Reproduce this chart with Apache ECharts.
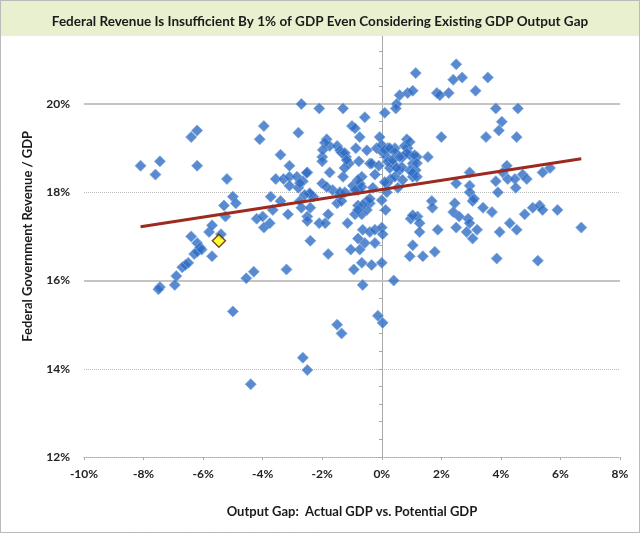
<!DOCTYPE html>
<html>
<head>
<meta charset="utf-8">
<script src="https://cdn.jsdelivr.net/npm/echarts@6/dist/echarts.min.js"></script>
<style>
  html, body { margin: 0; padding: 0; background: #fff; }
  #chart { width: 640px; height: 533px; }
</style>
</head>
<body>
<div id="chart"></div>
<script>
// output gap (%) vs federal revenue / GDP (%)
const points = [
  [-8.1, 18.6], [-7.6, 18.4], [-7.45, 18.7], [-7.45, 15.85], [-7.5, 15.8],
  [-6.9, 16.1], [-6.95, 15.9], [-6.7, 16.3], [-6.6, 16.35], [-6.5, 16.4],
  [-6.4, 17.0], [-6.3, 16.6], [-6.2, 16.85], [-6.2, 16.65], [-6.1, 16.75],
  [-6.05, 16.7], [-5.8, 17.1], [-5.7, 17.25], [-5.7, 16.55], [-5.4, 17.05],
  [-6.4, 19.25], [-6.2, 19.4], [-6.2, 18.6], [-5.2, 18.3], [-5.3, 17.7],
  [-5.25, 17.45], [-5.0, 17.9], [-4.9, 17.75], [-4.55, 16.05], [-4.3, 16.2],
  [-5.0, 15.3], [-4.4, 13.65], [-3.96, 19.5], [-4.1, 19.2], [-4.2, 17.4],
  [-4.0, 17.45], [-3.96, 17.2], [-3.76, 17.3], [-3.66, 17.6], [-3.73, 17.9],
  [-3.56, 18.3], [-3.4, 18.85], [-3.3, 18.3], [-3.1, 18.35], [-3.1, 18.15],
  [-2.85, 18.35], [-3.1, 18.6], [-3.15, 17.5], [-3.2, 16.25], [-2.8, 19.35],
  [-2.7, 20.0], [-2.8, 18.1], [-3.4, 17.8], [-2.7, 17.65], [-2.4, 17.65],
  [-2.5, 17.45], [-2.5, 17.35], [-2.75, 17.8], [-2.4, 17.95], [-2.3, 17.9],
  [-2.5, 18.45], [-2.65, 18.25], [-2.1, 17.3], [-1.9, 17.3], [-1.8, 17.5],
  [-2.4, 16.9], [-1.8, 16.6], [-2.1, 19.9], [-1.3, 19.9], [-2.0, 18.8],
  [-2.0, 18.7], [-1.85, 19.2], [-1.75, 19.05], [-1.5, 19.05], [-1.4, 18.95],
  [-1.35, 18.9], [-1.75, 18.45], [-1.3, 18.35], [-0.97, 18.15], [-0.67, 18.35],
  [-0.74, 18.2], [-0.8, 18.05], [-2.0, 18.2], [-1.65, 18.05], [-1.4, 17.95],
  [-1.5, 17.75], [-0.8, 17.7], [-1.2, 18.8], [-1.1, 18.65], [-1.25, 18.55],
  [-1.0, 19.5], [-0.9, 19.45], [-0.74, 19.25], [-0.87, 19.0], [-0.5, 18.95],
  [-0.57, 19.7], [0.1, 19.8], [-0.77, 18.7], [-0.4, 18.65], [-0.34, 18.65],
  [-0.23, 18.4], [-0.5, 17.8], [-0.4, 17.75], [-1.35, 17.8], [-1.15, 17.3],
  [-0.9, 17.5], [-0.67, 17.5], [-0.5, 17.6], [-0.4, 17.85], [0.13, 17.6],
  [-0.64, 17.15], [-0.4, 17.1], [-0.23, 17.15], [0.0, 17.2], [0.03, 17.05],
  [-0.8, 16.95], [-0.57, 16.85], [-0.74, 16.7], [-0.23, 16.85], [-1.04, 16.7],
  [-0.67, 16.4], [-0.94, 16.25], [-0.34, 16.35], [0.0, 16.4], [-0.64, 15.9],
  [0.4, 16.0], [-2.65, 14.25], [-2.5, 13.97], [-1.5, 15.0], [-1.35, 14.8],
  [-0.13, 15.2], [0.03, 15.04], [-0.07, 19.25], [-0.17, 19.0], [0.03, 18.9],
  [0.2, 19.0], [0.44, 19.0], [0.17, 18.8], [0.37, 18.65], [0.27, 18.55],
  [0.7, 18.8], [0.84, 19.2], [0.87, 19.0], [0.94, 18.85], [1.18, 18.8],
  [1.04, 18.65], [1.14, 18.5], [1.04, 18.35], [1.55, 18.8], [2.0, 19.25],
  [0.77, 19.05], [0.17, 18.2], [0.17, 18.0], [0.54, 18.1], [0.5, 20.0],
  [0.47, 19.9], [0.6, 20.2], [0.87, 20.25], [1.04, 20.3], [1.14, 20.7],
  [1.85, 20.25], [1.95, 20.2], [2.25, 20.25], [2.4, 20.55], [2.7, 20.6],
  [2.5, 20.9], [3.15, 20.3], [3.56, 20.6], [3.83, 19.9], [4.57, 19.9],
  [4.03, 19.6], [3.93, 19.4], [3.5, 19.25], [4.53, 19.25], [2.95, 18.45],
  [2.95, 18.15], [2.95, 18.0], [3.05, 17.8], [2.5, 18.2], [4.2, 18.6],
  [4.06, 18.45], [4.23, 18.3], [4.47, 18.3], [4.5, 18.1], [3.83, 18.25],
  [3.9, 18.0], [4.73, 18.4], [4.87, 18.3], [5.4, 18.45], [5.65, 18.55],
  [1.68, 17.8], [1.7, 17.65], [2.45, 17.75], [2.4, 17.55], [2.6, 17.45],
  [2.9, 17.4], [2.95, 17.3], [3.1, 17.85], [3.4, 17.65], [3.7, 17.55],
  [4.8, 17.5], [5.07, 17.65], [5.3, 17.7], [5.4, 17.6], [5.9, 17.6],
  [0.97, 17.4], [1.2, 17.45], [1.27, 17.3], [1.27, 17.1], [1.88, 17.15],
  [2.5, 17.2], [2.85, 17.1], [3.2, 17.15], [3.05, 16.95], [3.96, 17.1],
  [4.3, 17.3], [4.53, 17.15], [6.7, 17.2], [1.04, 16.8], [0.94, 16.55],
  [1.38, 16.55], [1.78, 16.65], [3.86, 16.5], [5.24, 16.45],
  [-0.1, 18.6], [0.3, 18.3], [0.6, 18.5], [-0.3, 18.1],
  [-1.91, 19.12], [-1.98, 18.96], [-1.24, 18.89], [-1.18, 18.73],
  [0.0, 19.07], [0.1, 18.96], [0.27, 19.0], [0.44, 18.91], [0.2, 18.69],
  [0.37, 18.73], [0.6, 18.8], [0.84, 18.89], [0.94, 19.14], [1.1, 18.84],
  [1.18, 18.66], [0.94, 18.5], [1.04, 18.44], [0.67, 18.57], [0.5, 18.55],
  [0.44, 18.35], [0.7, 18.28], [1.18, 18.35], [-0.8, 18.28], [-0.67, 18.12],
  [-0.9, 18.05], [-1.85, 18.12], [-1.41, 18.0], [-1.24, 18.0], [-2.52, 18.44],
  [-2.75, 18.21], [-2.42, 17.98], [-2.59, 17.94], [0.1, 18.23], [0.0, 17.82],
  [-0.64, 17.71], [-0.8, 17.6], [1.04, 17.48]
];

// the highlighted (yellow) observation
const highlight = [[-5.47, 16.9]];

// linear trend, ends
const trend = [[-8.1, 17.22], [6.7, 18.76]];

// solid major gridlines (the others are dotted)
const majorLines = [16, 20];

const titleText = 'Federal Revenue Is Insufficient By 1% of GDP Even Considering Existing GDP Output Gap';
const xName = 'Output Gap:  Actual GDP vs. Potential GDP';
const yName = 'Federal Government Revenue / GDP';

const font = 'Lato, "Open Sans", sans-serif';

const chart = echarts.init(document.getElementById('chart'));

chart.setOption({
  backgroundColor: '#fff',
  animation: false,
  title: {
    text: titleText,
    left: 'center',
    top: 10,
    z: 120,
    textStyle: { fontFamily: font, fontSize: 13.5, fontWeight: 'bold', color: '#1a1a1a' },
  },
  graphic: [
    {
      type: 'rect',
      z: 100,
      shape: { x: 1, y: 1, width: 638, height: 35 },
      style: { fill: '#e8f0d0', stroke: null },
    },
    {
      type: 'rect',
      z: 110,
      shape: { x: 0.5, y: 0.5, width: 639, height: 532 },
      style: { fill: null, stroke: '#777', lineWidth: 1, lineDash: [1, 1] },
    },
  ],
  grid: { left: 84, right: 20, top: 15.75, bottom: 76 },
  xAxis: {
    type: 'value',
    min: -10,
    max: 8,
    interval: 2,
    name: xName,
    nameLocation: 'middle',
    nameGap: 48,
    nameTextStyle: { fontFamily: font, fontSize: 13, fontWeight: 'bold', color: '#1a1a1a' },
    axisLine: { onZero: false, lineStyle: { color: '#aaa', type: 'dotted' } },
    axisTick: { show: true, length: 3, lineStyle: { color: '#aaa' } },
    axisLabel: {
      formatter: '{value}%',
      margin: 11,
      fontFamily: font,
      fontSize: 12,
      fontWeight: 'bold',
      color: '#222',
    },
    splitLine: { show: false },
  },
  yAxis: [
    {
      type: 'value',
      min: 12,
      max: 22,
      interval: 2,
      name: yName,
      nameLocation: 'middle',
      nameGap: 50,
      nameTextStyle: { fontFamily: font, fontSize: 13, fontWeight: 'bold', color: '#1a1a1a' },
      axisLine: { show: false },
      axisTick: { show: false },
      axisLabel: {
        formatter: '{value}%',
        margin: 14,
        fontFamily: font,
        fontSize: 12,
        fontWeight: 'bold',
        color: '#222',
      },
      splitLine: { show: true, lineStyle: { color: '#bbb', type: 'dotted', width: 1 } },
    },
    {
      // vertical axis crossing at 0% output gap
      type: 'value',
      min: 12,
      max: 22,
      interval: 2,
      position: 'left',
      offset: -298,
      axisLine: { show: true, lineStyle: { color: '#a8a8a8', width: 1 } },
      axisTick: { show: true, length: 3, lineStyle: { color: '#a8a8a8' } },
      minorTick: { show: true, splitNumber: 5, length: 3, lineStyle: { color: '#a8a8a8' } },
      axisLabel: { show: false },
      splitLine: { show: false },
    },
  ],
  series: [
    {
      type: 'scatter',
      data: points,
      symbol: 'diamond',
      symbolSize: 11,
      itemStyle: { color: '#2f6bc2', borderColor: '#78a6e0', borderWidth: 1 },
      markLine: {
        silent: true,
        symbol: 'none',
        label: { show: false },
        lineStyle: { color: '#c4c4c4', type: 'solid', width: 2 },
        data: majorLines.map((v) => ({ yAxis: v })),
        z: 1,
      },
      z: 3,
    },
    {
      type: 'line',
      data: trend,
      symbol: 'none',
      lineStyle: { color: '#9c2a1f', width: 3 },
      z: 4,
    },
    {
      type: 'scatter',
      data: highlight,
      symbol: 'diamond',
      symbolSize: 13,
      itemStyle: { color: '#ffff00', borderColor: '#5a1a0a', borderWidth: 1.5 },
      z: 5,
    },
  ],
});
</script>
</body>
</html>
